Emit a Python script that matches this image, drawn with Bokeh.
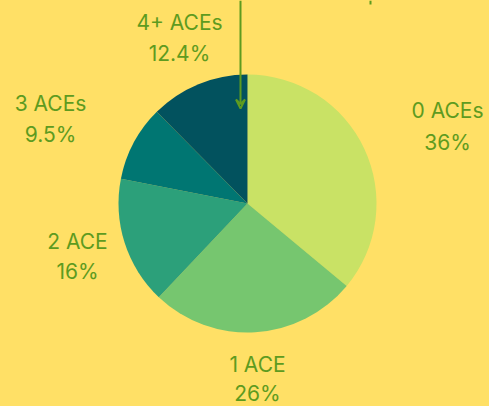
import math
from bokeh.plotting import figure
from bokeh.models import ColumnDataSource, Arrow, VeeHead
from bokeh.core.properties import value
from bokeh.embed import file_html
from bokeh.resources import INLINE

categories = ["0 ACEs", "1 ACE", "2 ACE", "3 ACEs", "4+ ACEs"]
percents = [36, 26, 16, 9.5, 12.4]
pct_labels = ["36%", "26%", "16%", "9.5%", "12.4%"]
colors = ["#C9E265", "#76C66F", "#2CA07A", "#007672", "#02525E"]

BG = "#FFE066"
TXT = "#5E9B1F"
W, H = 489, 406

def Y(py):
    return H - py

p = figure(width=W, height=H, x_range=(0, W), y_range=(0, H),
           output_backend="svg", toolbar_location=None, min_border=0)
p.background_fill_color = BG
p.border_fill_color = BG
p.outline_line_color = None
p.axis.visible = False
p.grid.visible = False

cx, cy, r = 247, Y(203), 129
total = sum(percents)
starts, ends = [], []
acc = 0.0
for v in percents:
    a0 = math.pi / 2 - 2 * math.pi * acc / total
    acc += v
    a1 = math.pi / 2 - 2 * math.pi * acc / total
    starts.append(a0)
    ends.append(a1)

src = ColumnDataSource(dict(start=starts, end=ends, color=colors))
p.wedge(x=cx, y=cy, radius=r, start_angle="start", end_angle="end", direction="clock",
        fill_color="color", line_color=None, source=src)

# label positions (reference pixels)
lx = [447, 257, 77, 50, 179]
ly = [110, 364, 240.5, 102.5, 22]
py_ = [141.5, 393, 271, 134, 53]
lsrc = ColumnDataSource(dict(x=lx, y=[Y(v) for v in ly], t=categories))
psrc = ColumnDataSource(dict(x=lx, y=[Y(v) for v in py_], t=pct_labels))
for s in (lsrc, psrc):
    p.text(x="x", y="y", text="t", source=s, text_align="center", text_baseline="middle",
           text_font=value("Inter"), text_font_size="21px", text_color=TXT)

p.add_layout(Arrow(end=VeeHead(size=9, line_color=TXT, line_width=2, fill_color=None),
                   x_start=240, y_start=Y(0), x_end=240, y_end=Y(108),
                   line_color=TXT, line_width=2))
p.segment(x0=[370], y0=[Y(0)], x1=[370], y1=[Y(4)], line_color=TXT, line_width=2)

html = file_html(p, INLINE)
html = html.replace("</head>", "<style>html,body{background:%s;}</style></head>" % BG, 1)
open("out.html", "w").write(html)
